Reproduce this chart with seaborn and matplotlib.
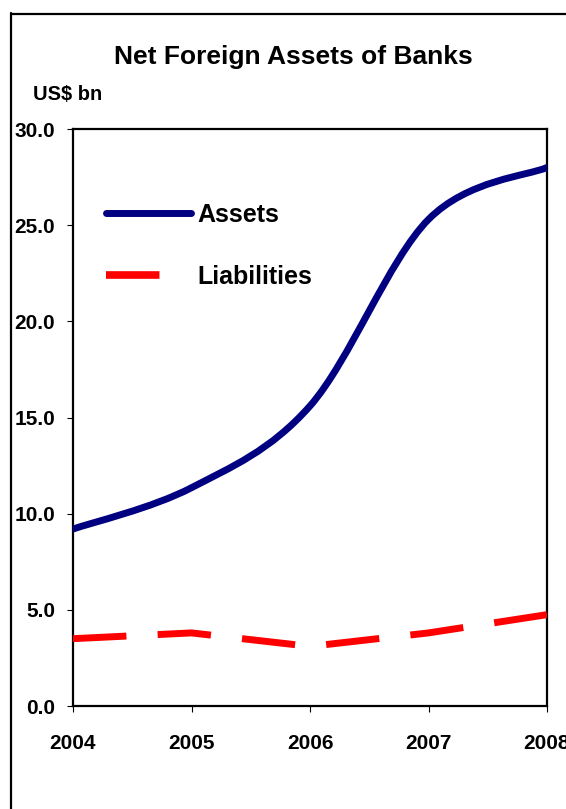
import numpy as np
import pandas as pd
import seaborn as sns
import matplotlib
matplotlib.use("Agg")
import matplotlib.pyplot as plt
from matplotlib.path import Path
from matplotlib.patches import PathPatch
from matplotlib.lines import Line2D

# Net foreign assets of banks, US$ bn
years = [2004, 2005, 2006, 2007, 2008]
assets = [9.2, 11.35, 15.6, 25.3, 28.0]
liabilities = [3.5, 3.8, 3.1, 3.8, 4.75]
y_ticks = [0, 5, 10, 15, 20, 25, 30]

title = "Net Foreign Assets of Banks"
unit_label = "US$ bn"

sns.set_theme(style="white")
plt.rcParams["font.family"] = ["Liberation Sans", "DejaVu Sans"]
plt.rcParams["font.weight"] = "bold"
plt.rcParams["text.color"] = "black"
plt.rcParams["legend.labelcolor"] = "black"

W, H = 566, 809
fig = plt.figure(figsize=(W / 100, H / 100), dpi=100)
ax = fig.add_axes([73 / W, 1 - 706 / H, (547 - 73) / W, (706 - 129) / H])

df = pd.DataFrame({"year": years, "assets": assets, "liabilities": liabilities})

# Liabilities: straight dashed segments
sns.lineplot(data=df, x="year", y="liabilities", ax=ax, color="#FF0000",
             linewidth=5, dashes=False, legend=False, zorder=3)
liab_line = ax.get_lines()[-1]
liab_line.set_dashes([7.7, 4.5])
liab_line.set_dash_capstyle("butt")


def smooth_path(xs, ys, k=1 / 6):
    """Cubic Bezier path through the points (spreadsheet-style smoothed line)."""
    pts = np.column_stack([xs, ys]).astype(float)
    n = len(pts)
    verts = [pts[0]]
    codes = [Path.MOVETO]
    for i in range(n - 1):
        p_prev = pts[i - 1] if i > 0 else pts[i]
        p0, p1 = pts[i], pts[i + 1]
        p_next = pts[i + 2] if i + 2 < n else pts[i + 1]
        c1 = p0 + (p1 - p_prev) * k
        c2 = p1 - (p_next - p0) * k
        verts += [c1, c2, p1]
        codes += [Path.CURVE4] * 3
    return Path(verts, codes)


# Assets: smoothed solid line drawn in data coordinates
sns.lineplot(data=df, x="year", y="assets", ax=ax, color="#000080",
             linewidth=0, legend=False)
patch = PathPatch(smooth_path(df["year"], df["assets"]), facecolor="none",
                  edgecolor="#000080", linewidth=5, capstyle="round",
                  joinstyle="round", zorder=4)
ax.add_patch(patch)

ax.set_xlim(2004, 2008)
ax.set_ylim(0, 30)
ax.set_xticks(years)
ax.set_xticklabels([str(y) for y in years])
ax.set_yticks(y_ticks)
ax.set_yticklabels([f"{v:.1f}" for v in y_ticks])
ax.set_xlabel("")
ax.set_ylabel("")

for s in ax.spines.values():
    s.set_visible(True)
    s.set_color("black")
    s.set_linewidth(1.6)

ax.tick_params(axis="both", which="major", direction="out", length=4.5,
               width=0.8, color="black", labelsize=15, labelcolor="black")
ax.tick_params(axis="y", left=True, pad=8.5)
ax.tick_params(axis="x", bottom=True, pad=16)
for lab in ax.get_xticklabels() + ax.get_yticklabels():
    lab.set_fontweight("bold")
for lab in ax.get_xticklabels():
    lab.set_clip_on(False)

handles = [
    Line2D([], [], color="#000080", linewidth=5, solid_capstyle="round"),
    Line2D([], [], color="#FF0000", linewidth=5.5, dashes=[7.0, 12],
           dash_capstyle="butt"),
]
leg = ax.legend(handles, ["Assets", "Liabilities"], loc="upper left",
                bbox_to_anchor=((106 - 73) / 474, (706 - 203) / 577),
                frameon=False, borderpad=0, borderaxespad=0,
                handlelength=3.4, handletextpad=0.25, labelspacing=1.5,
                prop={"size": 18, "weight": "bold"})
for t in leg.get_texts():
    t.set_color("black")

fig.text(293 / W, 1 - 57 / H, title, ha="center", va="center",
         fontsize=19, fontweight="bold", color="black")
fig.text(33 / W, 1 - 95 / H, unit_label, ha="left", va="center",
         fontsize=14.5, fontweight="bold", color="black")

# outer frame (left and top edges run off the canvas on the other sides)
fig.add_artist(Line2D([11 / W, 11 / W], [0, 1 - 13 / H], color="black",
                      linewidth=1.6, transform=fig.transFigure))
fig.add_artist(Line2D([11 / W, 1], [1 - 14 / H, 1 - 14 / H], color="black",
                      linewidth=1.6, transform=fig.transFigure))

fig.savefig("out.png", dpi=100, facecolor="white")
